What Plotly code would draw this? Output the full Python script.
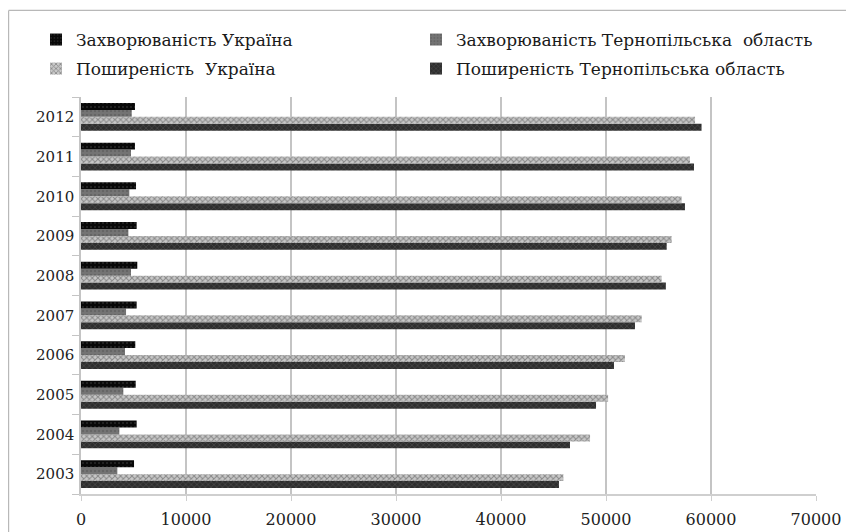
import plotly.graph_objects as go

years = ["2003", "2004", "2005", "2006", "2007", "2008", "2009", "2010", "2011", "2012"]

zakhv_ukr = [5050, 5300, 5210, 5170, 5300, 5360, 5300, 5240, 5140, 5140]
zakhv_tern = [3460, 3650, 4030, 4190, 4290, 4760, 4510, 4600, 4760, 4830]
poshyr_ukr = [45940, 48480, 50200, 51800, 53400, 55300, 56250, 57200, 58000, 58480]
poshyr_tern = [45520, 46570, 49050, 50760, 52760, 55700, 55780, 57520, 58380, 59100]

names = [
    "Захворюваність Україна",
    "Захворюваність Тернопільська  область",
    "Поширеність  Україна",
    "Поширеність Тернопільська область",
]

FONT = "DejaVu Serif"

fig = go.Figure()

# Plotly draws the first trace of a horizontal group at the bottom,
# so traces are added from the bottom bar of each group upwards.
fig.add_trace(go.Bar(
    y=years, x=poshyr_tern, orientation="h", name=names[3], legend="legend4",
    marker=dict(color="#3a3a3a", line=dict(width=0),
                pattern=dict(shape="x", fgcolor="#6a6a6a", bgcolor="#2e2e2e", size=4, solidity=0.3)),
))
fig.add_trace(go.Bar(
    y=years, x=poshyr_ukr, orientation="h", name=names[2], legend="legend3",
    marker=dict(color="#b0b0b0", line=dict(width=0),
                pattern=dict(shape="x", fgcolor="#4a4a4a", bgcolor="#c8c8c8", size=4, solidity=0.45)),
))
fig.add_trace(go.Bar(
    y=years, x=zakhv_tern, orientation="h", name=names[1], legend="legend2",
    marker=dict(color="#6e6e6e", line=dict(width=0),
                pattern=dict(shape=".", fgcolor="#555555", bgcolor="#747474", size=4, solidity=0.3)),
))
fig.add_trace(go.Bar(
    y=years, x=zakhv_ukr, orientation="h", name=names[0], legend="legend",
    marker=dict(color="#111111", line=dict(width=0),
                pattern=dict(shape=".", fgcolor="#4a4a4a", bgcolor="#080808", size=4, solidity=0.2)),
))

legend_common = dict(
    orientation="h", xanchor="left", yanchor="middle",
    font=dict(family=FONT, size=17, color="#1a1a1a"),
    itemwidth=30, bgcolor="rgba(0,0,0,0)",
)
COL1, COL2 = -0.0612, 0.4558
ROW1, ROW2 = 1.1436, 1.0705

fig.update_layout(
    width=854, height=532,
    margin=dict(l=73, r=46, t=89, b=46, autoexpand=False),
    paper_bgcolor="white", plot_bgcolor="white",
    showlegend=True,
    barmode="group", bargap=0.3, bargroupgap=0,
    font=dict(family=FONT, size=16, color="#222"),
    legend=dict(x=COL1, y=ROW1, **legend_common),
    legend2=dict(x=COL2, y=ROW1, **legend_common),
    legend3=dict(x=COL1, y=ROW2, **legend_common),
    legend4=dict(x=COL2, y=ROW2, **legend_common),
    xaxis=dict(
        range=[0, 70000], dtick=10000, tickformat="d",
        showgrid=True, gridcolor="#c4c4c4", gridwidth=1.5,
        showline=True, linecolor="#cfcfcf", linewidth=1.5,
        ticks="outside", ticklen=5, tickcolor="#cfcfcf",
        tickfont=dict(family=FONT, size=16, color="#222"),
        ticklabelstandoff=5,
        zeroline=False, fixedrange=True,
    ),
    yaxis=dict(
        type="category", categoryorder="array", categoryarray=years,
        showgrid=False, showline=True, linecolor="#c4c4c4", linewidth=1.5,
        ticks="outside", tickson="boundaries", ticklen=7, tickcolor="#c4c4c4",
        tickfont=dict(family=FONT, size=15, color="#222"),
        ticklabelstandoff=2,
    ),
    shapes=[
        dict(type="line", xref="paper", yref="paper", x0=-0.0985, x1=1.07, y0=1.218, y1=1.218,
             line=dict(color="#b8b8b8", width=1.2)),
        dict(type="line", xref="paper", yref="paper", x0=-0.0985, x1=-0.0985, y0=1.218, y1=-0.2,
             line=dict(color="#b8b8b8", width=1.2)),
    ],
)

fig.write_html("out.html")
